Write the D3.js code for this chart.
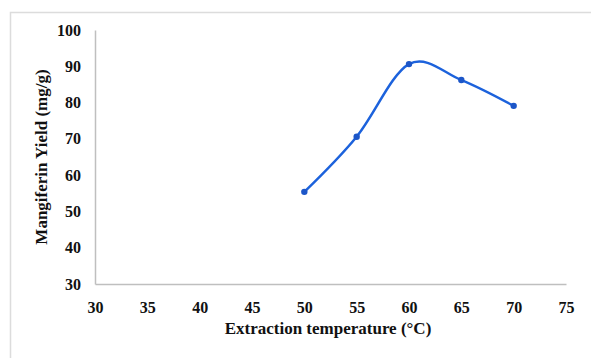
<!DOCTYPE html>
<html>
<head>
<meta charset="utf-8">
<script src="https://cdn.jsdelivr.net/npm/d3@7"></script>
<style>
  body { margin: 0; background: #fff; }
  svg { display: block; }
  .tick text { font-family: "Liberation Serif", "Times New Roman", serif; font-weight: bold; font-size: 16px; fill: #111; }
  .title { font-family: "Liberation Serif", "Times New Roman", serif; font-weight: bold; font-size: 17px; fill: #111; }
</style>
</head>
<body>
<svg width="591" height="358"></svg>
<script>
// extraction temperature (°C) vs mangiferin yield (mg/g)
const temperature = [50, 55, 60, 65, 70]
const yieldMg = [55.4, 70.6, 90.6, 86.2, 79.1]
const xTicks = [30, 35, 40, 45, 50, 55, 60, 65, 70, 75]
const yTicks = [30, 40, 50, 60, 70, 80, 90, 100]

const data = temperature.map((t, i) => ({ t, y: yieldMg[i] }))

const svg = d3.select("svg")

// light chart border
svg.append("rect")
  .attr("x", 10.5).attr("y", 12.5)
  .attr("width", 600).attr("height", 400)
  .attr("fill", "none")
  .attr("stroke", "#dcdcdc")
  .attr("stroke-width", 1.5)

const x = d3.scaleLinear().domain([30, 75]).range([95, 566])
const y = d3.scaleLinear().domain([30, 100]).range([284, 30])

// x axis
const gx = svg.append("g")
  .attr("transform", "translate(0,284)")
  .call(d3.axisBottom(x).tickValues(xTicks).tickSize(0).tickPadding(18))
gx.select(".domain").attr("stroke", "#bfbfbf").attr("stroke-width", 1.5)

// y axis
const gy = svg.append("g")
  .attr("transform", "translate(95,0)")
  .call(d3.axisLeft(y).tickValues(yTicks).tickSize(0).tickPadding(14))
gy.select(".domain").attr("stroke", "#bfbfbf").attr("stroke-width", 1.5)

// axis titles
svg.append("text")
  .attr("class", "title")
  .attr("x", 328).attr("y", 334)
  .attr("text-anchor", "middle")
  .text("Extraction temperature (°C)")

svg.append("text")
  .attr("class", "title")
  .attr("transform", "translate(47,157) rotate(-90)")
  .attr("text-anchor", "middle")
  .text("Mangiferin Yield (mg/g)")

// smoothed line
const line = d3.line()
  .x((d) => x(d.t))
  .y((d) => y(d.y))
  .curve(d3.curveCatmullRom.alpha(0))

svg.append("path")
  .datum(data)
  .attr("d", line)
  .attr("fill", "none")
  .attr("stroke", "#1c62dc")
  .attr("stroke-width", 2.5)

svg.selectAll(".pt")
  .data(data)
  .enter()
  .append("circle")
  .attr("class", "pt")
  .attr("cx", (d) => x(d.t))
  .attr("cy", (d) => y(d.y))
  .attr("r", 3.2)
  .attr("fill", "#1c56c8")
</script>
</body>
</html>
